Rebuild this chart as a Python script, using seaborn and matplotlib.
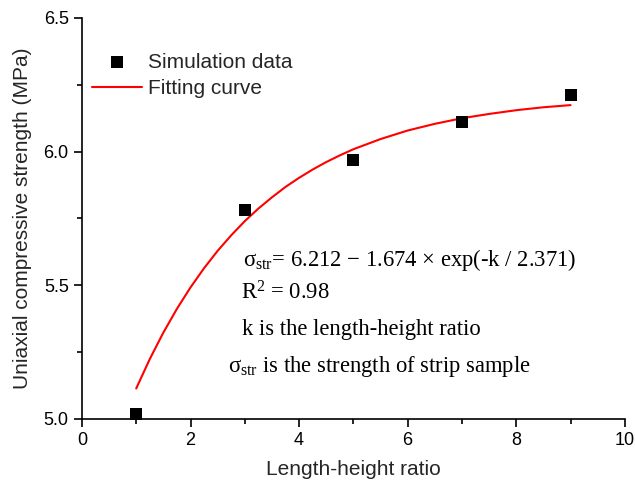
import matplotlib
matplotlib.use("Agg")
import matplotlib.pyplot as plt
import seaborn as sns
import pandas as pd
from matplotlib.ticker import MultipleLocator

# Data
sim_k = [1, 3, 5, 7, 9]
sim_strength = [5.02, 5.78, 5.97, 6.11, 6.21]

fit_k = [1, 1.25, 1.5, 1.75, 2, 2.25, 2.5, 2.75, 3, 3.25, 3.5, 3.75, 4, 4.25, 4.5, 4.75,
         5, 5.5, 6, 6.5, 7, 7.5, 8, 8.5, 9]
fit_strength = [5.114, 5.224, 5.323, 5.412, 5.492, 5.564, 5.629, 5.687, 5.740, 5.787,
                5.829, 5.868, 5.902, 5.933, 5.961, 5.986, 6.009,
                6.047, 6.079, 6.104, 6.125, 6.141, 6.155, 6.166, 6.174]

x_label = "Length-height ratio"
y_label = "Uniaxial compressive strength (MPa)"

sns.set_theme(style="ticks")
plt.rcParams['font.family'] = ['Liberation Sans', 'DejaVu Sans']
plt.rcParams['mathtext.fontset'] = 'custom'
plt.rcParams['mathtext.rm'] = 'Liberation Serif'
plt.rcParams['mathtext.it'] = 'Liberation Serif:italic'

fig = plt.figure(figsize=(6.35, 4.86), dpi=100)
ax = fig.add_axes([0.129, 0.138, 0.855, 0.825])

sim_df = pd.DataFrame({"k": sim_k, "s": sim_strength})
fit_df = pd.DataFrame({"k": fit_k, "s": fit_strength})

sns.lineplot(data=fit_df, x="k", y="s", ax=ax, color="#ff0000", linewidth=1.5,
             label="Fitting curve", zorder=2)
sns.scatterplot(data=sim_df, x="k", y="s", ax=ax, marker="s", color="black",
                s=70, edgecolor="black", linewidth=0, label="Simulation data", zorder=3)

ax.set_xlim(0, 10)
ax.set_ylim(5.0, 6.5)
ax.xaxis.set_major_locator(MultipleLocator(2))
ax.xaxis.set_minor_locator(MultipleLocator(1))
ax.yaxis.set_major_locator(MultipleLocator(0.5))
ax.yaxis.set_minor_locator(MultipleLocator(0.25))
ax.yaxis.set_major_formatter(matplotlib.ticker.FormatStrFormatter('%.1f'))
ax.tick_params(which='major', direction='out', length=6, width=1.2, labelsize=13, color='black', labelcolor='black')
ax.tick_params(which='minor', direction='out', length=3.5, width=1.2, color='black')
sns.despine(ax=ax)
for sp in ['left', 'bottom']:
    ax.spines[sp].set_linewidth(1.2)
    ax.spines[sp].set_color('black')

ax.set_xlabel(x_label, fontsize=15, labelpad=8)
ax.set_ylabel(y_label, fontsize=15, labelpad=8)

handles, labels = ax.get_legend_handles_labels()
order = [labels.index("Simulation data"), labels.index("Fitting curve")]
ax.legend([handles[i] for i in order], [labels[i] for i in order],
          loc='upper left', bbox_to_anchor=(-0.008, 0.95), frameon=False,
          fontsize=15, handlelength=2.4, handletextpad=0.3, labelspacing=0.35,
          borderaxespad=0.3)

serif = ['Liberation Serif', 'DejaVu Serif']
tkw = dict(transform=fig.transFigure, fontsize=16.3, family=serif, color='black', va='center', ha='left')
fig.text(243/635, 1-260/486, r"σ$_{\rm str}$= 6.212 − 1.674 × exp(-k / 2.371)", **tkw)
fig.text(241/635, 1-293/486, r"R$^2$ = 0.98", **tkw)
fig.text(242/635, 1-329/486, "k is the length-height ratio", **tkw)
fig.text(228/635, 1-366/486, r"σ$_{\rm str}$ is the strength of strip sample", **tkw)

fig.savefig("out.png", dpi=100, facecolor='white')
